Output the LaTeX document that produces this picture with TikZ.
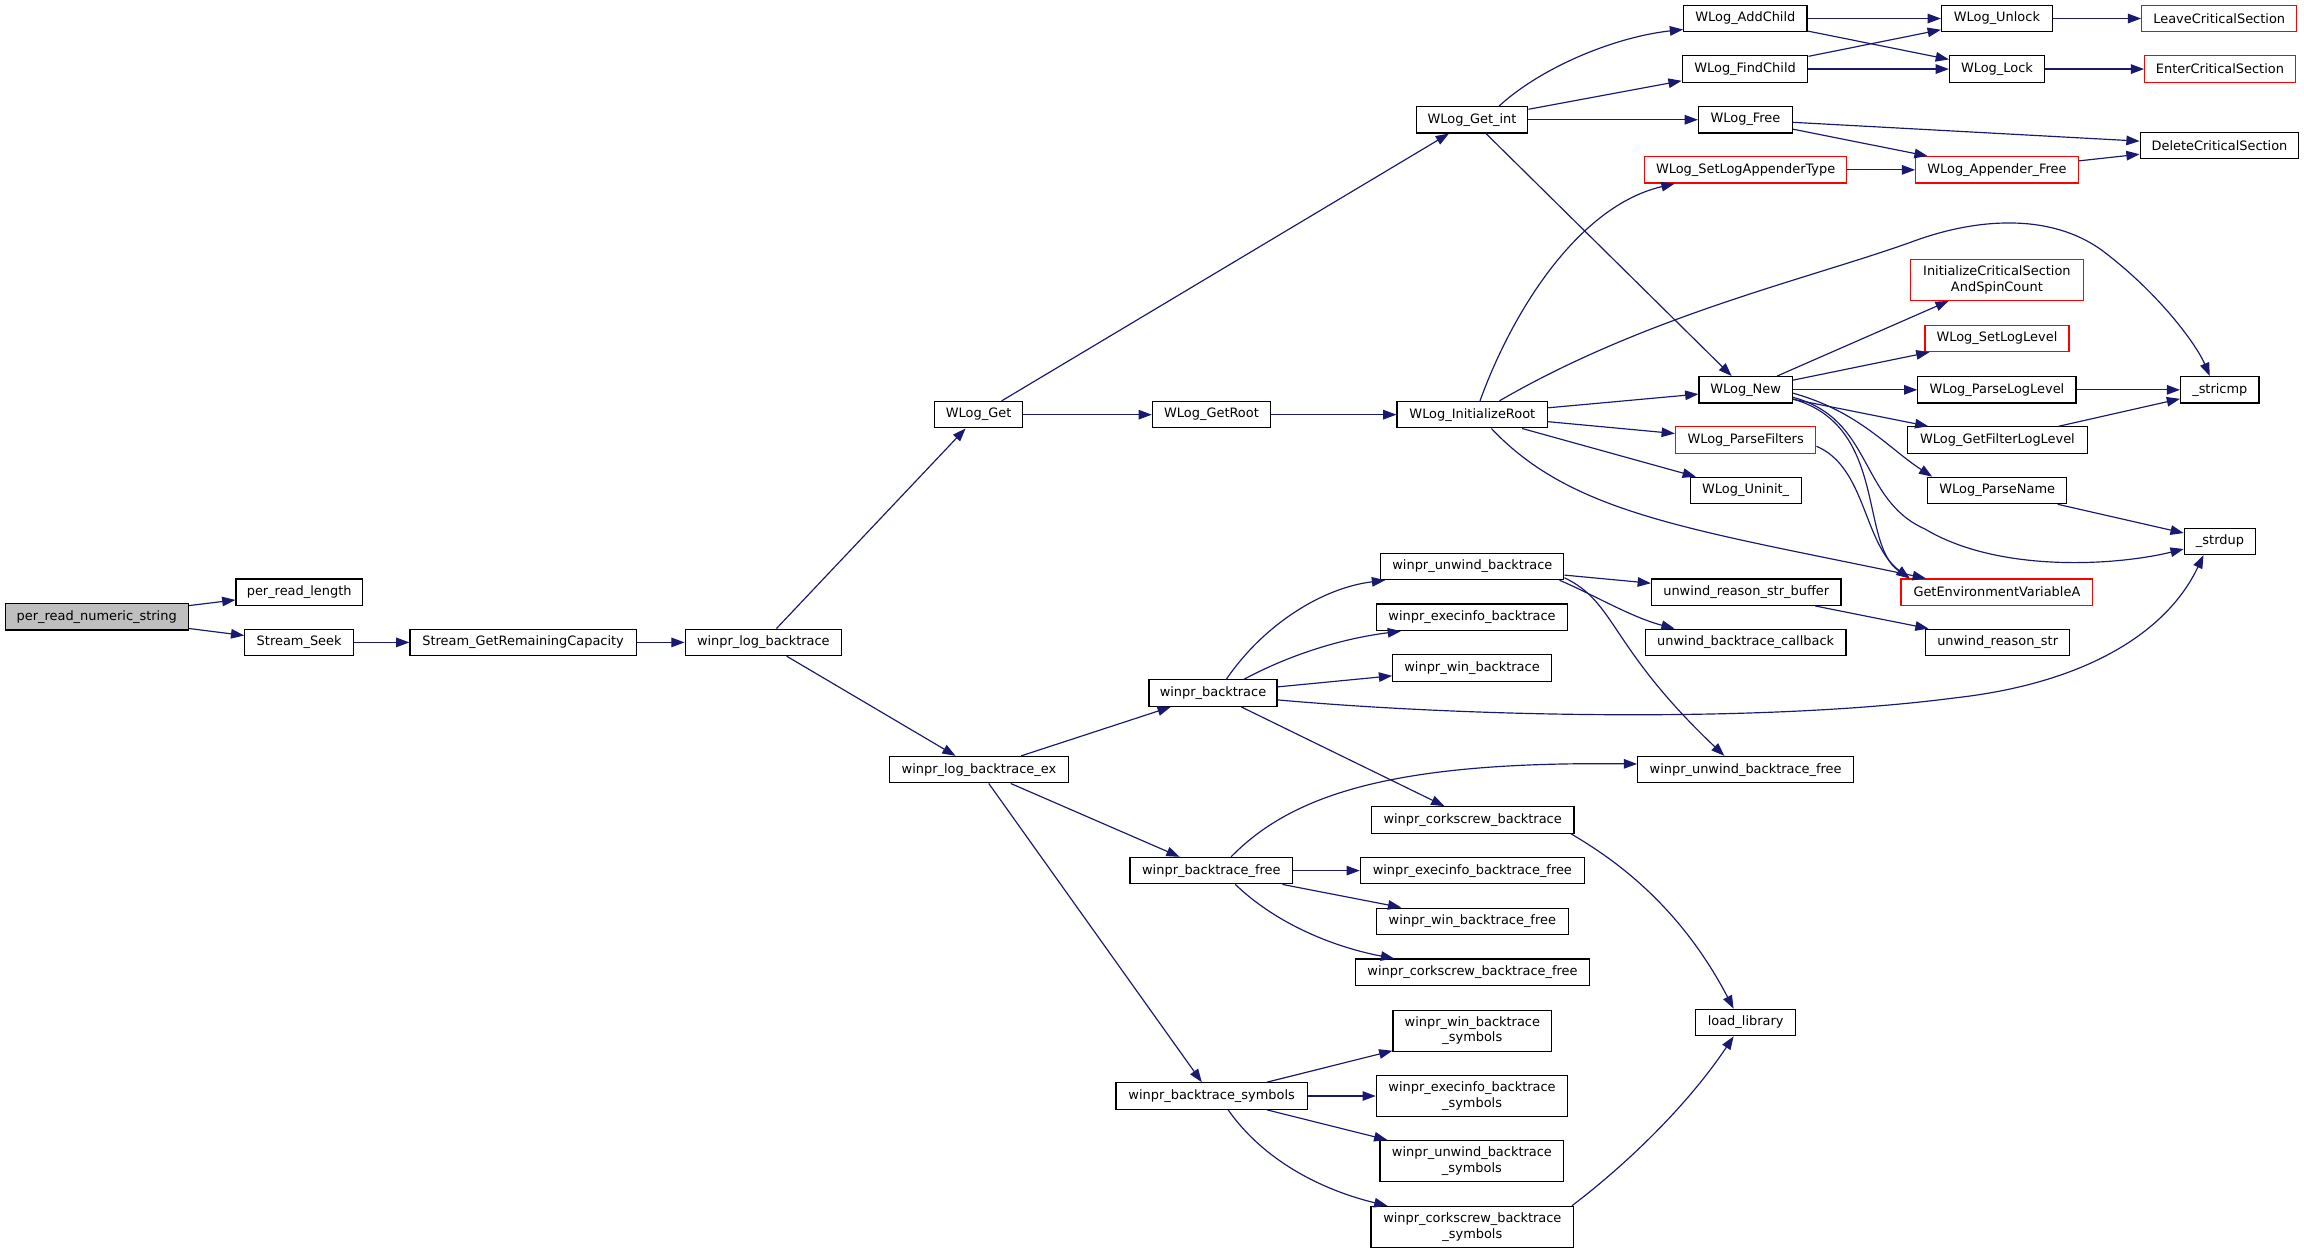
\documentclass[tikz,border=0pt]{standalone}
\usepackage{fontspec}
\setmainfont{DejaVu Sans}
\usetikzlibrary{arrows.meta}
\definecolor{edgeblue}{HTML}{191970}
\definecolor{nodered}{HTML}{FF0000}
\definecolor{rootgray}{HTML}{BFBFBF}
\begin{document}
\begin{tikzpicture}[x=1pt,y=-1pt,
  fn/.style={draw=black, fill=white, line width=0.8pt, inner sep=0pt, minimum height=18pt,
             font=\fontsize{8.8}{10.5}\selectfont, align=center},
  rn/.style={fn, draw=nodered},
  gn/.style={fn, fill=rootgray},
  tl/.style={minimum height=28pt},
  arr/.style={draw=edgeblue, line width=0.8pt, -{Triangle[length=9pt,width=6.5pt]}}]
\useasboundingbox (0,0) rectangle (1568,852.7);

% column 1-6
\node[gn, minimum width=124.5pt] (prns) at (65.8,419.8) {per\_read\_numeric\_string};
\node[fn, minimum width=86pt] (prl) at (203.6,403) {per\_read\_length};
\node[fn, minimum width=74pt] (ss) at (203.6,437.2) {Stream\_Seek};
\node[fn, minimum width=154pt] (sgrc) at (356,437.2) {Stream\_GetRemainingCapacity};
\node[fn, minimum width=106.5pt] (wlb) at (519.5,437.2) {winpr\_log\_backtrace};
\node[fn, minimum width=59.5pt] (wget) at (666,282.2) {WLog\_Get};
\node[fn, minimum width=121.6pt] (wlbe) at (666.2,523.8) {winpr\_log\_backtrace\_ex};
\node[fn, minimum width=80.5pt] (wgr) at (824.5,282.2) {WLog\_GetRoot};
\node[fn, minimum width=87pt] (wbt) at (825.5,471.7) {winpr\_backtrace};
\node[fn, minimum width=110.7pt] (wbf) at (824.4,592.5) {winpr\_backtrace\_free};
\node[fn, minimum width=130.3pt] (wbs) at (824.6,745.9) {winpr\_backtrace\_symbols};

% column ~1002
\node[fn, minimum width=76pt] (wgi) at (1001.8,81.5) {WLog\_Get\_int};
\node[fn, minimum width=102.5pt] (wir) at (1002,282.2) {WLog\_InitializeRoot};
\node[fn, minimum width=124.5pt] (wub) at (1002,385.5) {winpr\_unwind\_backtrace};
\node[fn, minimum width=130pt] (web) at (1001.8,420.1) {winpr\_execinfo\_backtrace};
\node[fn, minimum width=108pt] (wwb) at (1001.8,454.7) {winpr\_win\_backtrace};
\node[fn, minimum width=138pt] (wcb) at (1002.2,558) {winpr\_corkscrew\_backtrace};
\node[fn, minimum width=152.4pt] (webf) at (1002,592.5) {winpr\_execinfo\_backtrace\_free};
\node[fn, minimum width=130.7pt] (wwbf) at (1002,627) {winpr\_win\_backtrace\_free};
\node[fn, minimum width=159.8pt] (wcbf) at (1002.1,661.7) {winpr\_corkscrew\_backtrace\_free};
\node[fn, tl, minimum width=108pt] (wwbs) at (1002,701.5) {winpr\_win\_backtrace\\\_symbols};
\node[fn, tl, minimum width=130.3pt] (webs) at (1001.8,745.9) {winpr\_execinfo\_backtrace\\\_symbols};
\node[fn, tl, minimum width=125pt] (wubs) at (1001.7,790.2) {winpr\_unwind\_backtrace\\\_symbols};
\node[fn, tl, minimum width=138pt] (wcbs) at (1002,835) {winpr\_corkscrew\_backtrace\\\_symbols};

% column ~1188
\node[fn, minimum width=84pt] (wac) at (1187.8,12.6) {WLog\_AddChild};
\node[fn, minimum width=85.5pt] (wfc) at (1187.6,47) {WLog\_FindChild};
\node[fn, minimum width=64pt] (wfree) at (1187.9,81.5) {WLog\_Free};
\node[rn, minimum width=137.6pt] (slat) at (1188,115.6) {WLog\_SetLogAppenderType};
\node[fn, minimum width=63.5pt] (wnew) at (1188,265.3) {WLog\_New};
\node[rn, minimum width=95.6pt] (wpf) at (1188,299.5) {WLog\_ParseFilters};
\node[fn, minimum width=75.6pt] (wun) at (1188,333.8) {WLog\_Uninit\_};
\node[fn, minimum width=129pt] (urb) at (1188.4,403) {unwind\_reason\_str\_buffer};
\node[fn, minimum width=136.6pt] (ubc) at (1188,437.2) {unwind\_backtrace\_callback};
\node[fn, minimum width=147pt] (wubf) at (1188,523.8) {winpr\_unwind\_backtrace\_free};
\node[fn, minimum width=67.8pt] (ll) at (1188,695.9) {load\_library};

% column ~1359
\node[fn, minimum width=75.5pt] (wul) at (1359,12.6) {WLog\_Unlock};
\node[fn, minimum width=64.5pt] (wlk) at (1359,47) {WLog\_Lock};
\node[rn, minimum width=110.5pt] (waf) at (1359,115.6) {WLog\_Appender\_Free};
\node[rn, tl, minimum width=117.6pt] (ics) at (1359,190.4) {InitializeCriticalSection\\AndSpinCount};
\node[rn, minimum width=98pt] (sll) at (1359,230.3) {WLog\_SetLogLevel};
\node[fn, minimum width=107.6pt] (wpll) at (1359,265.3) {WLog\_ParseLogLevel};
\node[fn, minimum width=122pt] (gfll) at (1359.4,299.5) {WLog\_GetFilterLogLevel};
\node[fn, minimum width=94.5pt] (wpn) at (1359.2,333.8) {WLog\_ParseName};
\node[rn, minimum width=130.5pt] (genv) at (1359,403) {GetEnvironmentVariableA};
\node[fn, minimum width=98pt] (urs) at (1359.5,437.2) {unwind\_reason\_str};

% column ~1511
\node[rn, minimum width=105.5pt] (lcs) at (1510.3,12.6) {LeaveCriticalSection};
\node[rn, minimum width=102.5pt] (ecs) at (1510.8,47) {EnterCriticalSection};
\node[fn, minimum width=108pt] (dcs) at (1510.5,99) {DeleteCriticalSection};
\node[fn, minimum width=53.4pt] (stricmp) at (1510.7,265.3) {\_stricmp};
\node[fn, minimum width=48.5pt] (strdup) at (1510.8,368.4) {\_strdup};

% edges
\draw[arr] (prns) -- (prl);
\draw[arr] (prns) -- (ss);
\draw[arr] (ss) -- (sgrc);
\draw[arr] (sgrc) -- (wlb);
\draw[arr] (wlb) -- (wget);
\draw[arr] (wlb) -- (wlbe);
\draw[arr] (wget) -- (wgi);
\draw[arr] (wget) -- (wgr);
\draw[arr] (wgr) -- (wir);

\draw[arr] (wgi.27.9) .. controls (1050,45) and (1100,25) .. (wac.-170);
\draw[arr] (wgi) -- (wfc);
\draw[arr] (wgi) -- (wfree);
\draw[arr] (wgi) -- (wnew);
\draw[arr] (wac) -- (wul);
\draw[arr] (wac) -- (wlk);
\draw[arr] (wfc) -- (wul);
\draw[arr] (wfc) -- (wlk);
\draw[arr] (wul) -- (lcs);
\draw[arr] (wlk) -- (ecs);
\draw[arr] (wfree) -- (dcs);
\draw[arr] (wfree) -- (waf);
\draw[arr] (slat) -- (waf);
\draw[arr] (waf) -- (dcs);

\draw[arr] (wir.61) .. controls (1030,210) and (1075,140) .. (slat.-169.6);
\draw[arr] (wir.27.9) .. controls (1120,215) and (1230,190) .. (1300,165)
   .. controls (1345,148) and (1395,145) .. (1430,170)
   .. controls (1470,200) and (1495,235) .. (stricmp.126.7);
\draw[arr] (wir) -- (wnew);
\draw[arr] (wir) -- (wpf);
\draw[arr] (wir) -- (wun);
\draw[arr] (wir.-36.9) .. controls (1070,350) and (1150,360) .. (genv.169.8);

\draw[arr] (wnew) -- (ics);
\draw[arr] (wnew) -- (sll);
\draw[arr] (wnew) -- (wpll);
\draw[arr] (wnew) -- (gfll);
\draw[arr] (wnew.-4.5) .. controls (1265,280) and (1285,305) .. (wpn.168.7);
\draw[arr] (wnew.-9) .. controls (1275,285) and (1265,340) .. (1310,360)
   .. controls (1360,390) and (1440,385) .. (strdup.-168.2);
\draw[arr] (wnew.-11) .. controls (1285,290) and (1265,370) .. (genv.171.3);
\draw[arr] (wpf.-5.4) .. controls (1270,318) and (1268,370) .. (genv.171);
\draw[arr] (wpll) -- (stricmp);
\draw[arr] (gfll) -- (stricmp);
\draw[arr] (wpn) -- (strdup);

\draw[arr] (wlbe) -- (wbt);
\draw[arr] (wlbe) -- (wbf);
\draw[arr] (wlbe) -- (wbs);

\draw[arr] (wbt.46.6) .. controls (860,425) and (900,400) .. (wub.-171.2);
\draw[arr] (wbt.24.8) .. controls (875,447) and (910,435) .. (web.-169.1);
\draw[arr] (wbt) -- (wwb);
\draw[arr] (wbt.-6.6) .. controls (1000,488) and (1200,492) .. (1330,475)
   .. controls (1420,465) and (1475,430) .. (strdup.-140.2);
\draw[arr] (wbt) -- (wcb);

\draw[arr] (wub) -- (urb);
\draw[arr] (wub.-9.8) .. controls (1085,405) and (1110,420) .. (ubc.169.5);
\draw[arr] (wub.-7) .. controls (1100,410) and (1095,440) .. (wubf.147.3);
\draw[arr] (urb) -- (urs);

\draw[arr] (wcb.-8.4) .. controls (1090,580) and (1140,610) .. (ll.131.6);

\draw[arr] (wbf.35.5) .. controls (880,540) and (950,518) .. (wubf.177.4);
\draw[arr] (wbf) -- (webf);
\draw[arr] (wbf) -- (wwbf);
\draw[arr] (wbf.-30) .. controls (870,630) and (910,645) .. (wcbf.170.2);

\draw[arr] (wbs) -- (wwbs);
\draw[arr] (wbs) -- (webs);
\draw[arr] (wbs) -- (wubs);
\draw[arr] (wbs.-40.9) .. controls (860,790) and (900,810) .. (wcbs.166.9);
\draw[arr] (wcbs.12.5) .. controls (1110,790) and (1150,750) .. (ll.-131.6);
\end{tikzpicture}
\end{document}
